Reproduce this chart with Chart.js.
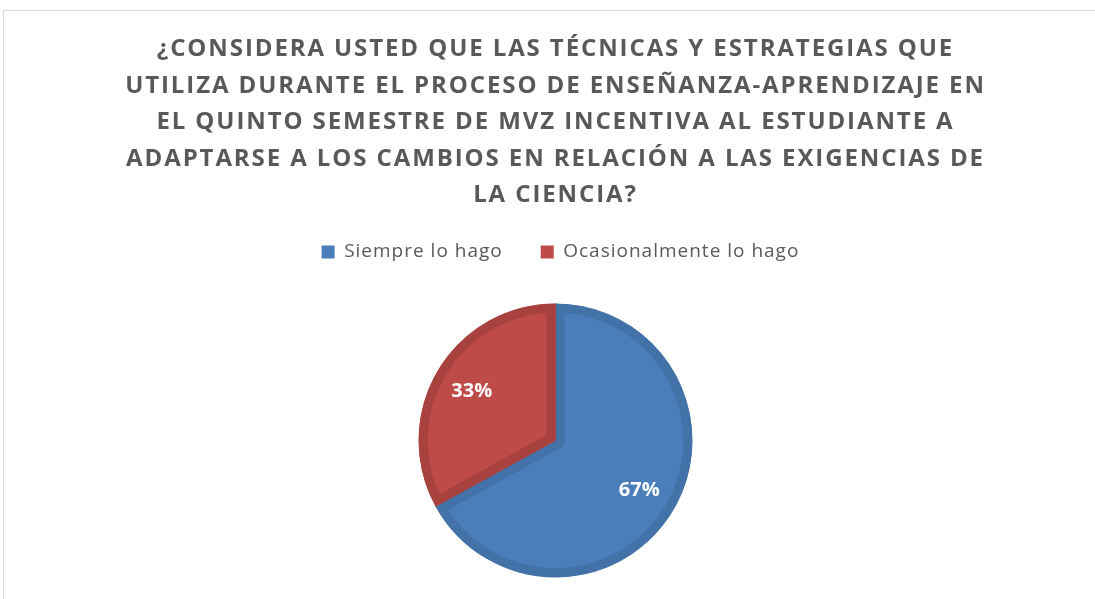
<!DOCTYPE html>
<html>
<head>
<meta charset="utf-8">
<script src="https://cdn.jsdelivr.net/npm/chart.js@4.4.1/dist/chart.umd.min.js"></script>
<style>
  body { margin: 0; background: #fff; }
  #wrap { position: relative; width: 1095px; height: 599px; overflow: hidden; }
  #frame { position: absolute; left: 3px; top: 10px; width: 1200px; height: 700px; border: 1px solid #d9d9d9; }
  #box { position: absolute; left: 8px; top: 0; width: 1095px; height: 620px; }
</style>
</head>
<body>
<div id="wrap">
  <div id="frame"></div>
  <div id="box"><canvas id="myChart"></canvas></div>
</div>
<script>
var titleLines = [
    "¿CONSIDERA USTED QUE LAS TÉCNICAS Y ESTRATEGIAS QUE",
    "UTILIZA DURANTE EL PROCESO DE ENSEÑANZA-APRENDIZAJE EN",
    "EL QUINTO SEMESTRE DE MVZ INCENTIVA AL ESTUDIANTE A",
    "ADAPTARSE A LOS CAMBIOS EN RELACIÓN A LAS EXIGENCIAS DE",
    "LA CIENCIA?"
];
var categories = ["Siempre lo hago", "Ocasionalmente lo hago"];
var percentValues = [67, 33];
var fillColors = ["#4a7ebb", "#be4b48"];
var edgeColors = ["#4372a9", "#a8423f"];

// wrap a box method so its text gets some letter spacing (and an optional x nudge)
function spaced(obj, name, amount, dx) {
    var orig = obj[name];
    obj[name] = function() {
        var c = this.ctx;
        var old = c.letterSpacing;
        c.save();
        if (dx) c.translate(dx, 0);
        c.letterSpacing = amount;
        var res = orig.apply(this, arguments);
        c.restore();
        c.letterSpacing = old || '0px';
        return res;
    };
}

var letterSpacing = {
    id: 'letterSpacing',
    beforeInit: function(chart) {
        spaced(chart.titleBlock, 'draw', '1.9px');
        spaced(chart.legend, 'fit', '1px');
        spaced(chart.legend, 'draw', '1px', 5);
    }
};

// draws the % labels inside each slice
var sliceLabels = {
    id: 'sliceLabels',
    afterDatasetsDraw: function(chart) {
        var ctx = chart.ctx;
        var meta = chart.getDatasetMeta(0);
        var data = chart.data.datasets[0].data;
        var total = data.reduce(function(a, b) { return a + b; }, 0);
        ctx.save();
        ctx.font = "bold 20px 'Open Sans'";
        ctx.fillStyle = "#ffffff";
        ctx.textAlign = "center";
        ctx.textBaseline = "middle";
        meta.data.forEach(function(arc, i) {
            var p = arc.getProps(['x', 'y', 'startAngle', 'endAngle', 'outerRadius'], true);
            var mid = (p.startAngle + p.endAngle) / 2;
            var r = p.outerRadius * 0.71;
            var txt = Math.round(data[i] / total * 100) + "%";
            ctx.fillText(txt, p.x + Math.cos(mid) * r, p.y + Math.sin(mid) * r);
        });
        ctx.restore();
    }
};

var chartData = {
    labels: categories,
    datasets: [{
        data: percentValues,
        backgroundColor: fillColors,
        borderColor: edgeColors,
        borderWidth: 9,
        borderAlign: 'inner',
        hoverOffset: 0
    }]
};

var config = {
    type: 'pie',
    data: chartData,
    options: {
        responsive: true,
        maintainAspectRatio: false,
        animation: false,
        radius: 137,
        layout: { padding: { top: 0, bottom: 10.5 } },
        plugins: {
            title: {
                display: true,
                text: titleLines,
                color: '#595959',
                font: { family: "'Open Sans'", size: 24, weight: 'bold', lineHeight: 1.52 },
                padding: { top: 31, bottom: -9 }
            },
            legend: {
                position: 'top',
                labels: {
                    color: '#595959',
                    font: { family: "'Open Sans'", size: 19 },
                    boxWidth: 13,
                    boxHeight: 13,
                    padding: 38,
                    generateLabels: function(chart) {
                        var items = Chart.overrides.pie.plugins.legend.labels.generateLabels(chart);
                        items.forEach(function(it) {
                            it.lineWidth = 0;
                            it.strokeStyle = it.fillStyle;
                        });
                        return items;
                    }
                }
            },
            tooltip: { enabled: false }
        }
    },
    plugins: [letterSpacing, sliceLabels]
};

var ctx = document.getElementById('myChart').getContext('2d');
var myChart = new Chart(ctx, config);
</script>
</body>
</html>
